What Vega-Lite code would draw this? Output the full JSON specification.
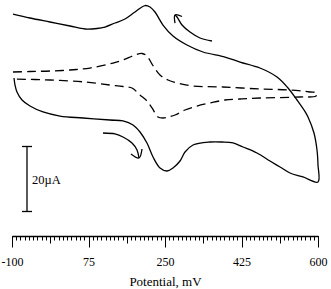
{
  "$schema": "https://vega.github.io/schema/vega-lite/v6.json",
  "width": 306,
  "height": 236,
  "autosize": {"type": "none"},
  "padding": {"left": 12, "top": 0, "right": 13, "bottom": 53},
  "background": "white",
  "config": {"view": {"stroke": null}},
  "resolve": {"axis": {"x": "independent", "y": "independent"}},
  "datasets": {
    "curves": [
      {"s": "solid", "i": 1, "v": -97.7, "c": 38.77},
      {"s": "solid", "i": 2, "v": -58.8, "c": 37.54},
      {"s": "solid", "i": 3, "v": -13.1, "c": 36.31},
      {"s": "solid", "i": 4, "v": 32.7, "c": 35.08},
      {"s": "solid", "i": 5, "v": 67.0, "c": 34.15},
      {"s": "solid", "i": 6, "v": 94.4, "c": 34.31},
      {"s": "solid", "i": 7, "v": 112.7, "c": 34.77},
      {"s": "solid", "i": 8, "v": 135.6, "c": 36.0},
      {"s": "solid", "i": 9, "v": 158.5, "c": 37.23},
      {"s": "solid", "i": 10, "v": 181.4, "c": 39.38},
      {"s": "solid", "i": 11, "v": 204.3, "c": 41.38},
      {"s": "solid", "i": 12, "v": 215.7, "c": 40.92},
      {"s": "solid", "i": 13, "v": 227.1, "c": 39.38},
      {"s": "solid", "i": 14, "v": 245.4, "c": 35.38},
      {"s": "solid", "i": 15, "v": 268.3, "c": 32.0},
      {"s": "solid", "i": 16, "v": 300.3, "c": 29.23},
      {"s": "solid", "i": 17, "v": 336.9, "c": 27.08},
      {"s": "solid", "i": 18, "v": 387.3, "c": 25.54},
      {"s": "solid", "i": 19, "v": 421.6, "c": 24.0},
      {"s": "solid", "i": 20, "v": 467.3, "c": 22.15},
      {"s": "solid", "i": 21, "v": 506.2, "c": 19.38},
      {"s": "solid", "i": 22, "v": 531.4, "c": 16.0},
      {"s": "solid", "i": 23, "v": 552.0, "c": 12.31},
      {"s": "solid", "i": 24, "v": 568.0, "c": 9.23},
      {"s": "solid", "i": 25, "v": 577.1, "c": 7.08},
      {"s": "solid", "i": 26, "v": 590.8, "c": 2.15},
      {"s": "solid", "i": 27, "v": 597.7, "c": -3.08},
      {"s": "solid", "i": 28, "v": 600.0, "c": -7.69},
      {"s": "solid", "i": 29, "v": 600.0, "c": -12.92},
      {"s": "solid", "i": 30, "v": 565.7, "c": -11.38},
      {"s": "solid", "i": 31, "v": 535.9, "c": -10.15},
      {"s": "solid", "i": 32, "v": 513.1, "c": -8.31},
      {"s": "solid", "i": 33, "v": 490.2, "c": -6.46},
      {"s": "solid", "i": 34, "v": 460.5, "c": -4.0},
      {"s": "solid", "i": 35, "v": 428.4, "c": -2.15},
      {"s": "solid", "i": 36, "v": 405.6, "c": -0.92},
      {"s": "solid", "i": 37, "v": 380.4, "c": -0.62},
      {"s": "solid", "i": 38, "v": 352.9, "c": -0.62},
      {"s": "solid", "i": 39, "v": 314.1, "c": -1.54},
      {"s": "solid", "i": 40, "v": 295.8, "c": -3.69},
      {"s": "solid", "i": 41, "v": 284.3, "c": -6.46},
      {"s": "solid", "i": 42, "v": 268.3, "c": -8.62},
      {"s": "solid", "i": 43, "v": 254.6, "c": -9.54},
      {"s": "solid", "i": 44, "v": 238.6, "c": -8.62},
      {"s": "solid", "i": 45, "v": 222.6, "c": -5.23},
      {"s": "solid", "i": 46, "v": 208.8, "c": -0.92},
      {"s": "solid", "i": 47, "v": 192.8, "c": 2.46},
      {"s": "solid", "i": 48, "v": 176.8, "c": 4.62},
      {"s": "solid", "i": 49, "v": 153.9, "c": 5.85},
      {"s": "solid", "i": 50, "v": 124.2, "c": 6.15},
      {"s": "solid", "i": 51, "v": 62.4, "c": 6.77},
      {"s": "solid", "i": 52, "v": 9.8, "c": 7.38},
      {"s": "solid", "i": 53, "v": -29.1, "c": 8.62},
      {"s": "solid", "i": 54, "v": -58.8, "c": 10.46},
      {"s": "solid", "i": 55, "v": -77.1, "c": 12.31},
      {"s": "solid", "i": 56, "v": -88.6, "c": 14.77},
      {"s": "solid", "i": 57, "v": -93.1, "c": 16.92},
      {"s": "solid", "i": 58, "v": -95.4, "c": 19.08},
      {"s": "dashed", "i": 1, "v": -97.7, "c": 20.92},
      {"s": "dashed", "i": 2, "v": -58.8, "c": 21.08},
      {"s": "dashed", "i": 3, "v": -13.1, "c": 21.23},
      {"s": "dashed", "i": 4, "v": 32.7, "c": 21.54},
      {"s": "dashed", "i": 5, "v": 78.4, "c": 22.15},
      {"s": "dashed", "i": 6, "v": 131.0, "c": 23.69},
      {"s": "dashed", "i": 7, "v": 153.9, "c": 24.62},
      {"s": "dashed", "i": 8, "v": 181.4, "c": 26.15},
      {"s": "dashed", "i": 9, "v": 197.4, "c": 26.62},
      {"s": "dashed", "i": 10, "v": 208.8, "c": 25.85},
      {"s": "dashed", "i": 11, "v": 220.3, "c": 23.38},
      {"s": "dashed", "i": 12, "v": 238.6, "c": 20.0},
      {"s": "dashed", "i": 13, "v": 256.9, "c": 18.46},
      {"s": "dashed", "i": 14, "v": 277.5, "c": 17.54},
      {"s": "dashed", "i": 15, "v": 314.1, "c": 16.62},
      {"s": "dashed", "i": 16, "v": 382.7, "c": 16.31},
      {"s": "dashed", "i": 17, "v": 467.3, "c": 15.69},
      {"s": "dashed", "i": 18, "v": 535.9, "c": 15.38},
      {"s": "dashed", "i": 19, "v": 581.7, "c": 14.77},
      {"s": "dashed", "i": 20, "v": 597.7, "c": 14.46},
      {"s": "dashed", "i": 21, "v": 595.4, "c": 13.54},
      {"s": "dashed", "i": 22, "v": 558.8, "c": 13.23},
      {"s": "dashed", "i": 23, "v": 467.3, "c": 12.92},
      {"s": "dashed", "i": 24, "v": 421.6, "c": 12.62},
      {"s": "dashed", "i": 25, "v": 387.3, "c": 12.31},
      {"s": "dashed", "i": 26, "v": 352.9, "c": 11.38},
      {"s": "dashed", "i": 27, "v": 323.2, "c": 10.46},
      {"s": "dashed", "i": 28, "v": 295.8, "c": 9.23},
      {"s": "dashed", "i": 29, "v": 272.9, "c": 7.69},
      {"s": "dashed", "i": 30, "v": 256.9, "c": 7.08},
      {"s": "dashed", "i": 31, "v": 245.4, "c": 6.77},
      {"s": "dashed", "i": 32, "v": 234.0, "c": 7.08},
      {"s": "dashed", "i": 33, "v": 220.3, "c": 9.85},
      {"s": "dashed", "i": 34, "v": 208.8, "c": 12.0},
      {"s": "dashed", "i": 35, "v": 192.8, "c": 13.85},
      {"s": "dashed", "i": 36, "v": 174.5, "c": 16.0},
      {"s": "dashed", "i": 37, "v": 153.9, "c": 16.46},
      {"s": "dashed", "i": 38, "v": 124.2, "c": 16.92},
      {"s": "dashed", "i": 39, "v": 67.0, "c": 17.85},
      {"s": "dashed", "i": 40, "v": -13.1, "c": 18.46},
      {"s": "dashed", "i": 41, "v": -97.7, "c": 18.77}
    ],
    "arrows": [
      {"s": "a1", "i": 1, "v": 357.5, "c": 30.46},
      {"s": "a1", "i": 2, "v": 330.1, "c": 31.38},
      {"s": "a1", "i": 3, "v": 307.2, "c": 33.23},
      {"s": "a1", "i": 4, "v": 288.9, "c": 35.38},
      {"s": "a1", "i": 5, "v": 277.5, "c": 37.85},
      {"s": "a1", "i": 6, "v": 272.9, "c": 38.46},
      {"s": "h1", "i": 1, "v": 272.9, "c": 36.0},
      {"s": "h1", "i": 2, "v": 272.9, "c": 38.46},
      {"s": "h1", "i": 3, "v": 288.9, "c": 38.0},
      {"s": "a2", "i": 1, "v": 108.2, "c": 2.15},
      {"s": "a2", "i": 2, "v": 135.6, "c": 1.85},
      {"s": "a2", "i": 3, "v": 153.9, "c": 0.92},
      {"s": "a2", "i": 4, "v": 174.5, "c": -0.92},
      {"s": "a2", "i": 5, "v": 186.0, "c": -3.08},
      {"s": "a2", "i": 6, "v": 190.5, "c": -5.54},
      {"s": "h2", "i": 1, "v": 172.2, "c": -4.31},
      {"s": "h2", "i": 2, "v": 190.5, "c": -5.54},
      {"s": "h2", "i": 3, "v": 197.4, "c": -2.77}
    ],
    "scalebar": [
      {"v": -65.7, "c1": -2, "c2": -22, "v1": -77.1, "v2": -54.2, "label": "20µA", "cm": -12.3}
    ]
  },
  "layer": [
    {
      "data": {"name": "curves"},
      "transform": [{"filter": "datum.s === 'solid'"}],
      "mark": {"type": "line", "color": "black", "strokeWidth": 1.3, "interpolate": "catmull-rom"},
      "encoding": {
        "x": {"field": "v", "type": "quantitative", "scale": {"domain": [-100, 600], "nice": false, "zero": false},
          "axis": {
            "orient": "bottom",
            "title": null,
            "grid": false,
            "labels": false,
            "domainColor": "black",
            "domainWidth": 1.3,
            "tickColor": "black",
            "tickWidth": 1,
            "tickSize": 4,
            "values": [-100, -90.278, -80.556, -70.833, -61.111, -51.389, -41.667, -31.944, -22.222, -12.5, -2.778, 6.944, 16.667, 26.389, 36.111, 45.833, 55.556, 65.278, 75, 84.722, 94.444, 104.167, 113.889, 123.611, 133.333, 143.056, 152.778, 162.5, 172.222, 181.944, 191.667, 201.389, 211.111, 220.833, 230.556, 240.278, 250, 259.722, 269.444, 279.167, 288.889, 298.611, 308.333, 318.056, 327.778, 337.5, 347.222, 356.944, 366.667, 376.389, 386.111, 395.833, 405.556, 415.278, 425, 434.722, 444.444, 454.167, 463.889, 473.611, 483.333, 493.056, 502.778, 512.5, 522.222, 531.944, 541.667, 551.389, 561.111, 570.833, 580.556, 590.278, 600]
          }},
        "y": {"field": "c", "type": "quantitative", "scale": {"domain": [-29.54, 43.08], "nice": false, "zero": false}, "axis": null},
        "order": {"field": "i", "type": "quantitative"}
      }
    },
    {
      "data": {"name": "curves"},
      "transform": [{"filter": "datum.s === 'dashed'"}],
      "mark": {"type": "line", "color": "black", "strokeWidth": 1.3, "strokeDash": [9, 5], "interpolate": "catmull-rom"},
      "encoding": {
        "x": {"field": "v", "type": "quantitative",
          "axis": {
            "orient": "bottom",
            "title": null,
            "grid": false,
            "labels": false,
            "domain": false,
            "tickColor": "black",
            "tickWidth": 1,
            "tickSize": 7,
            "values": [-100, -12.5, 75, 162.5, 250, 337.5, 425, 512.5, 600]
          }},
        "y": {"field": "c", "type": "quantitative", "axis": null},
        "order": {"field": "i", "type": "quantitative"}
      }
    },
    {
      "data": {"name": "arrows"},
      "mark": {"type": "line", "color": "black", "strokeWidth": 1.3, "interpolate": "catmull-rom"},
      "encoding": {
        "x": {"field": "v", "type": "quantitative",
          "axis": {
            "orient": "bottom",
            "title": "Potential, mV",
            "titleFont": "Liberation Serif",
            "titleFontSize": 13,
            "titleFontWeight": "normal",
            "titleColor": "black",
            "titlePadding": 8,
            "grid": false,
            "domain": false,
            "tickColor": "black",
            "tickWidth": 1,
            "tickSize": 11,
            "values": [-100, 75, 250, 425, 600],
            "labelExpr": "'' + round(datum.value)",
            "labelOverlap": false,
            "labelFlush": false,
            "labelFont": "Liberation Serif",
            "labelFontSize": 12,
            "labelColor": "black",
            "labelPadding": 9
          }},
        "y": {"field": "c", "type": "quantitative", "axis": null},
        "detail": {"field": "s"},
        "order": {"field": "i", "type": "quantitative"}
      }
    },
    {
      "data": {"name": "scalebar"},
      "mark": {"type": "rule", "color": "black", "strokeWidth": 1.3},
      "encoding": {
        "x": {"field": "v", "type": "quantitative", "axis": null},
        "y": {"field": "c1", "type": "quantitative", "axis": null},
        "y2": {"field": "c2"}
      }
    },
    {
      "data": {"name": "scalebar"},
      "mark": {"type": "rule", "color": "black", "strokeWidth": 1.3},
      "encoding": {
        "x": {"field": "v1", "type": "quantitative", "axis": null},
        "x2": {"field": "v2"},
        "y": {"field": "c1", "type": "quantitative", "axis": null}
      }
    },
    {
      "data": {"name": "scalebar"},
      "mark": {"type": "rule", "color": "black", "strokeWidth": 1.3},
      "encoding": {
        "x": {"field": "v1", "type": "quantitative", "axis": null},
        "x2": {"field": "v2"},
        "y": {"field": "c2", "type": "quantitative", "axis": null}
      }
    },
    {
      "data": {"name": "scalebar"},
      "mark": {"type": "text", "align": "left", "baseline": "middle", "font": "Liberation Serif", "fontSize": 12.5, "color": "black"},
      "encoding": {
        "x": {"field": "v2", "type": "quantitative", "axis": null},
        "y": {"field": "cm", "type": "quantitative", "axis": null},
        "text": {"field": "label"}
      }
    }
  ]
}
